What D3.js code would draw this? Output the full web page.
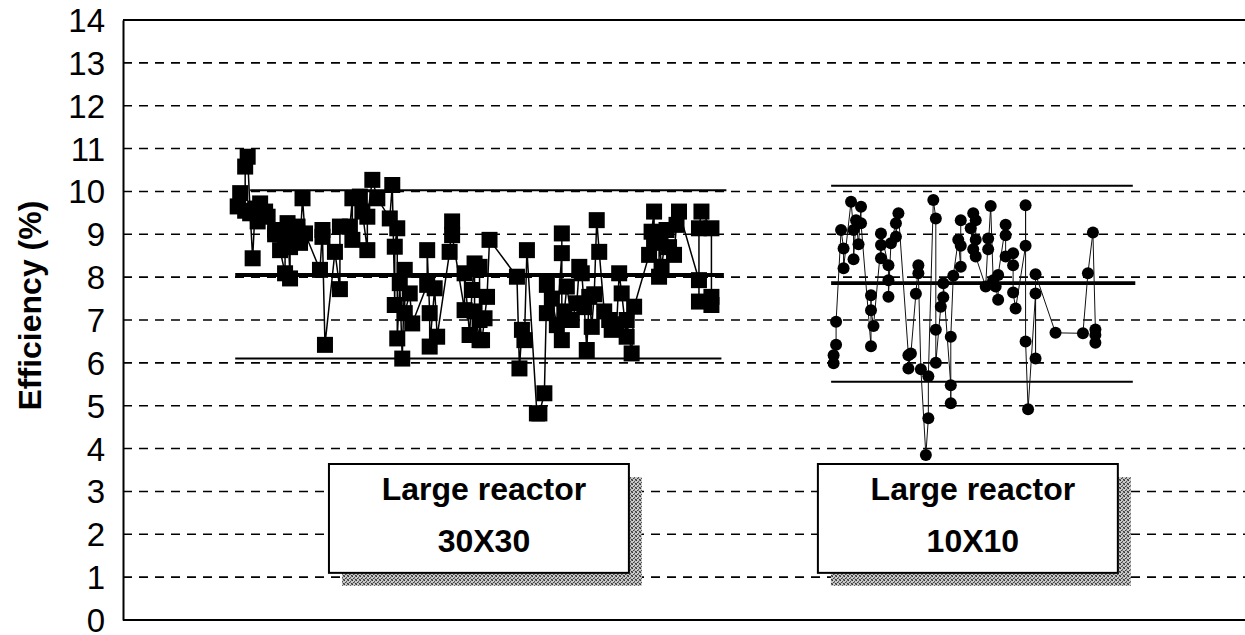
<!DOCTYPE html>
<html><head><meta charset="utf-8">
<script src="https://cdn.jsdelivr.net/npm/d3@7"></script>
<style>
html,body{margin:0;padding:0;background:#fff;}
svg{display:block;}
text{font-family:Arial,"Liberation Sans",sans-serif;fill:#000;}
</style></head>
<body>
<svg id="chart" width="1245" height="635"></svg>
<script>
// ---- data ----
const yTicks = [0,1,2,3,4,5,6,7,8,9,10,11,12,13,14];
const yTitle = "Efficiency (%)";

// Large reactor 30X30 (square markers): run number, efficiency %
const runs30 = [46,47,49,49,50,51,52,53,54,55,57,58,61,61,63,65,65,66,67,67,69,70,71,72,73,79,80,80,81,85,87,87,91,92,92,95,96,98,98,100,102,107,108,109,109,110,110,111,112,113,113,115,116,122,122,123,123,125,126,131,132,132,137,137,139,140,141,141,143,143,143,144,145,146,147,158,159,160,161,162,166,167,169,170,170,172,174,176,176,176,177,178,180,182,183,184,185,186,187,188,189,190,191,193,195,196,198,199,200,202,202,204,205,211,212,213,213,215,215,216,218,219,221,222,223,231,231,231,232,236,236,236];
const eff30 = [9.65,9.96,9.55,10.58,10.81,9.49,8.44,9.6,9.3,9.72,9.53,9.41,9.1,9.0,8.63,8.09,8.98,9.26,7.97,8.7,8.87,9.18,8.8,9.84,9.02,8.17,9.1,8.94,6.42,8.59,7.72,9.18,9.18,9.84,8.87,9.88,9.53,8.63,9.41,10.27,9.84,9.37,10.15,7.35,8.71,9.14,6.57,7.86,6.1,8.17,7.16,7.62,6.92,7.82,8.63,7.16,6.38,7.74,6.61,8.59,9.3,8.98,7.23,8.09,6.65,7.7,8.32,7.2,6.53,8.24,7.0,6.53,7.04,7.54,8.87,8.01,5.87,6.77,6.53,8.63,4.82,4.82,5.29,7.82,7.16,7.5,6.88,8.56,9.02,6.53,7.2,7.78,7.0,7.39,8.24,8.09,7.3,6.3,7.54,6.84,7.6,9.33,8.59,7.2,7.0,6.77,6.9,8.09,7.62,6.61,7.0,6.22,7.31,8.52,9.06,9.53,8.8,8.01,8.9,8.24,9.1,8.7,8.52,9.22,9.53,7.93,7.43,9.14,9.53,9.14,7.54,7.35];

// Large reactor 10X10 (circle markers)
const runs10 = [285,285,286,286,288,289,289,292,293,293,294,295,296,296,300,300,300,301,304,304,304,307,307,307,308,310,310,311,315,315,316,318,319,319,320,322,323,323,325,326,326,326,328,329,329,332,332,332,333,335,336,336,336,340,341,341,342,342,342,346,347,347,348,349,350,351,351,354,354,354,357,357,357,358,362,362,362,363,366,366,366,374,385,387,389,390,390,390];
const eff10 = [5.99,6.18,6.42,6.96,9.1,8.67,8.21,9.76,9.1,8.42,9.33,8.77,9.64,9.26,6.39,7.58,7.23,6.86,8.75,8.44,9.02,8.28,7.93,7.54,8.79,9.26,8.94,9.49,6.18,5.87,6.22,7.61,8.28,8.09,5.85,3.85,4.71,5.69,9.8,9.37,6.77,6.0,7.31,7.53,7.86,5.48,5.06,6.61,8.03,8.87,8.24,8.73,9.33,9.14,8.65,9.49,9.33,8.87,8.48,7.78,8.9,8.65,9.66,7.93,7.78,7.47,8.05,9.22,8.98,8.48,8.56,8.28,7.64,7.27,8.73,9.68,6.5,4.92,7.62,6.1,8.07,6.7,6.69,8.09,9.04,6.78,6.47,6.65];

// control lines: [value, first run, last run, kind]
const limits30 = [[10.03,51,242,"limit"],[8.05,45,241,"mean"],[6.1,45,240,"limit"]];
const limits10 = [[10.13,284,405,"limit"],[7.86,284,406,"mean"],[5.56,284,405,"limit"]];

// annotation boxes
const boxLabels = [["Large reactor","30X30"],["Large reactor","10X10"]];
const boxRuns = [[82.6,202.9],[278.7,399]];
const boxEff = [3.64,1.1];

// ---- drawing ----
const svg = d3.select("#chart");
const x = d3.scaleLinear().domain([0,450]).range([123,1245]);
const y = d3.scaleLinear().domain([0,14]).range([620,20]);

const defs = svg.append("defs");
const pat = defs.append("pattern").attr("id","stip").attr("width",4).attr("height",4).attr("patternUnits","userSpaceOnUse");
pat.append("rect").attr("width",4).attr("height",4).attr("fill","#c8c8c8");
[[0,0,"#333"],[2,1,"#555"],[1,2,"#444"],[3,3,"#3a3a3a"],[3,0,"#777"],[0,3,"#666"],[2,2,"#888"]].forEach(p=>{
  pat.append("rect").attr("x",p[0]).attr("y",p[1]).attr("width",1).attr("height",1).attr("fill",p[2]);
});

// gridlines
svg.append("g").selectAll("line").data(yTicks.filter(t=>t>0&&t<14)).join("line")
  .attr("x1",x(0)).attr("x2",x(450)).attr("y1",d=>y(d)).attr("y2",d=>y(d))
  .attr("stroke","#000").attr("stroke-width",1.6).attr("stroke-dasharray","9,7");
// top border and baseline
svg.append("g").selectAll("line").data([0,14]).join("line")
  .attr("x1",x(0)).attr("x2",x(450)).attr("y1",d=>y(d)).attr("y2",d=>y(d))
  .attr("stroke","#000").attr("stroke-width",2);

// y axis
const yAxis = d3.axisLeft(y).tickValues(yTicks).tickSize(0).tickPadding(18).tickFormat(d3.format("d"));
const gy = svg.append("g").attr("transform",`translate(${x(0)},0)`).call(yAxis);
gy.select(".domain").attr("stroke","#000").attr("stroke-width",2);
gy.selectAll("text").style("font-size","33px").attr("dy","0.35em").attr("fill","#000");

svg.append("text").attr("transform",`translate(41,${(y(5)+y(10))/2 + 7}) rotate(-90)`)
  .attr("text-anchor","middle").style("font-size","32px").style("font-weight","bold").text(yTitle);

// control lines
function drawLimits(lims){
  svg.append("g").selectAll("line").data(lims).join("line")
    .attr("x1",d=>x(d[1])).attr("x2",d=>x(d[2])).attr("y1",d=>y(d[0])).attr("y2",d=>y(d[0]))
    .attr("stroke","#000").attr("stroke-width",d=>d[3]==="mean"?3.8:2);
}
drawLimits(limits30);
drawLimits(limits10);

// series lines
const pts30 = runs30.map((r,i)=>[r,eff30[i]]);
const pts10 = runs10.map((r,i)=>[r,eff10[i]]);
const line = d3.line().x(d=>x(d[0])).y(d=>y(d[1]));
svg.append("path").datum(pts30).attr("d",line).attr("fill","none").attr("stroke","#000").attr("stroke-width",1.5);
svg.append("path").datum(pts10).attr("d",line).attr("fill","none").attr("stroke","#111").attr("stroke-width",1);

// markers
const sq = 16;
svg.append("g").selectAll("rect").data(pts30).join("rect")
  .attr("x",d=>x(d[0])-sq/2).attr("y",d=>y(d[1])-sq/2).attr("width",sq).attr("height",sq).attr("fill","#000");
svg.append("g").selectAll("circle").data(pts10).join("circle")
  .attr("cx",d=>x(d[0])).attr("cy",d=>y(d[1])).attr("r",6).attr("fill","#000");

// annotation boxes
boxLabels.forEach((lab,i)=>{
  const x0 = x(boxRuns[i][0]), x1 = x(boxRuns[i][1]);
  const y0 = y(boxEff[0]), y1 = y(boxEff[1]);
  const g = svg.append("g");
  g.append("rect").attr("x",x0+13).attr("y",y0+13).attr("width",x1-x0).attr("height",y1-y0).attr("fill","url(#stip)");
  g.append("rect").attr("x",x0).attr("y",y0).attr("width",x1-x0).attr("height",y1-y0)
    .attr("fill","#fff").attr("stroke","#000").attr("stroke-width",2);
  const cx = (x0+x1)/2 + 5;
  g.append("text").attr("x",cx).attr("y",y0+36).attr("text-anchor","middle")
    .style("font-size","32px").style("font-weight","bold").text(lab[0]);
  g.append("text").attr("x",cx).attr("y",y0+88).attr("text-anchor","middle")
    .style("font-size","32px").style("font-weight","bold").text(lab[1]);
});
</script>
</body></html>
